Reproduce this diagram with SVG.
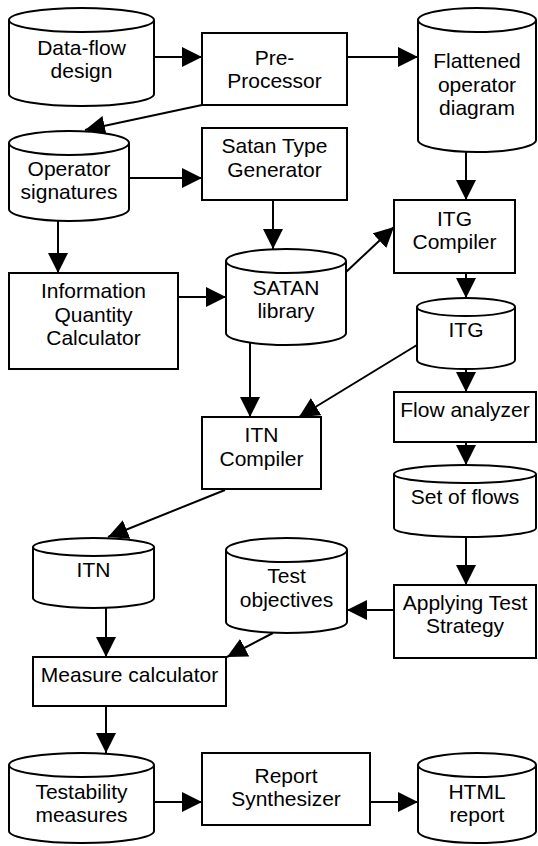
<svg xmlns="http://www.w3.org/2000/svg" width="538" height="846" viewBox="0 0 538 846">
  <style>
    .shape { fill: #fff; stroke: #000; stroke-width: 2; }
    .rim { fill: none; stroke: #000; stroke-width: 2; }
    .edge { fill: none; stroke: #000; stroke-width: 2; marker-end: url(#head); }
    text { font-family: "Liberation Sans", Arial, sans-serif; font-size: 21px; fill: #000; text-anchor: middle; }
  </style>
  <defs>
    <marker id="head" markerUnits="userSpaceOnUse" markerWidth="20" markerHeight="20" refX="20" refY="10" orient="auto">
      <path d="M0,0 L20,10 L0,20 Z" fill="#000"/>
    </marker>
  </defs>

  <rect width="538" height="846" fill="#fff"/>

  <!-- connectors (drawn first so the nodes sit on top) -->
  <g id="connectors">
    <line class="edge" x1="154" y1="57" x2="202" y2="57"/>
    <line class="edge" x1="347" y1="57" x2="418" y2="57"/>
    <line class="edge" x1="202" y1="105" x2="85" y2="130"/>
    <line class="edge" x1="129" y1="178" x2="202" y2="178"/>
    <line class="edge" x1="466" y1="150" x2="466" y2="200"/>
    <line class="edge" x1="273" y1="200" x2="273" y2="249"/>
    <line class="edge" x1="58" y1="219" x2="58" y2="273"/>
    <line class="edge" x1="178" y1="297" x2="226" y2="297"/>
    <line class="edge" x1="346" y1="272" x2="394" y2="227"/>
    <line class="edge" x1="466" y1="273" x2="466" y2="298"/>
    <line class="edge" x1="250" y1="340" x2="250" y2="417"/>
    <line class="edge" x1="417" y1="345" x2="299" y2="417"/>
    <line class="edge" x1="466" y1="367" x2="466" y2="392"/>
    <line class="edge" x1="466" y1="442" x2="466" y2="465"/>
    <line class="edge" x1="466" y1="535" x2="466" y2="585"/>
    <line class="edge" x1="394" y1="610" x2="347" y2="610"/>
    <line class="edge" x1="225" y1="490" x2="108" y2="537"/>
    <line class="edge" x1="106" y1="606" x2="106" y2="657"/>
    <line class="edge" x1="273" y1="633" x2="227" y2="657"/>
    <line class="edge" x1="106" y1="706" x2="106" y2="753"/>
    <line class="edge" x1="154" y1="802" x2="202" y2="802"/>
    <line class="edge" x1="370" y1="802" x2="418" y2="802"/>
  </g>

  <!-- data stores (cylinders) and processes (boxes) -->
  <g id="dataflow-design">
    <path class="shape" d="M9,20 A72.5,12 0 0 1 154,20 V94 A72.5,12 0 0 1 9,94 Z"/>
    <path class="rim" d="M9,20 A72.5,12 0 0 0 154,20"/>
    <text x="81.5" y="55">Data-flow</text>
    <text x="81.5" y="78">design</text>
  </g>

  <g id="pre-processor">
    <rect class="shape" x="202" y="33" width="145" height="72"/>
    <text x="274.5" y="65">Pre-</text>
    <text x="274.5" y="88">Processor</text>
  </g>

  <g id="flattened-diagram">
    <path class="shape" d="M418,20 A59,12 0 0 1 536,20 V140 A59,12 0 0 1 418,140 Z"/>
    <path class="rim" d="M418,20 A59,12 0 0 0 536,20"/>
    <text x="477" y="68">Flattened</text>
    <text x="477" y="92">operator</text>
    <text x="477" y="115">diagram</text>
  </g>

  <g id="operator-signatures">
    <path class="shape" d="M9,143 A60,12 0 0 1 129,143 V209 A60,12 0 0 1 9,209 Z"/>
    <path class="rim" d="M9,143 A60,12 0 0 0 129,143"/>
    <text x="69" y="176">Operator</text>
    <text x="69" y="199">signatures</text>
  </g>

  <g id="satan-type-generator">
    <rect class="shape" x="202" y="128" width="145" height="72"/>
    <text x="274.5" y="153">Satan Type</text>
    <text x="274.5" y="177">Generator</text>
  </g>

  <g id="itg-compiler">
    <rect class="shape" x="394" y="200" width="121" height="73"/>
    <text x="454.5" y="226">ITG</text>
    <text x="454.5" y="249">Compiler</text>
  </g>

  <g id="information-quantity-calculator">
    <rect class="shape" x="9" y="273" width="169" height="96"/>
    <text x="93.5" y="298">Information</text>
    <text x="93.5" y="322">Quantity</text>
    <text x="93.5" y="345">Calculator</text>
  </g>

  <g id="satan-library">
    <path class="shape" d="M226,261 A60,12 0 0 1 346,261 V333 A60,12 0 0 1 226,333 Z"/>
    <path class="rim" d="M226,261 A60,12 0 0 0 346,261"/>
    <text x="286" y="295">SATAN</text>
    <text x="286" y="318">library</text>
  </g>

  <g id="itg">
    <path class="shape" d="M417,307 A49,9 0 0 1 515,307 V360 A49,9 0 0 1 417,360 Z"/>
    <path class="rim" d="M417,307 A49,9 0 0 0 515,307"/>
    <text x="466" y="337">ITG</text>
  </g>

  <g id="flow-analyzer">
    <rect class="shape" x="394" y="392" width="142" height="50"/>
    <text x="465" y="417">Flow analyzer</text>
  </g>

  <g id="itn-compiler">
    <rect class="shape" x="202" y="417" width="119" height="72"/>
    <text x="261.5" y="442">ITN</text>
    <text x="261.5" y="466">Compiler</text>
  </g>

  <g id="set-of-flows">
    <path class="shape" d="M394,474 A71,9 0 0 1 536,474 V528 A71,9 0 0 1 394,528 Z"/>
    <path class="rim" d="M394,474 A71,9 0 0 0 536,474"/>
    <text x="465" y="504">Set of flows</text>
  </g>

  <g id="applying-test-strategy">
    <rect class="shape" x="394" y="585" width="142" height="73"/>
    <text x="465" y="610">Applying Test</text>
    <text x="465" y="633">Strategy</text>
  </g>

  <g id="test-objectives">
    <path class="shape" d="M226,550 A60.5,12 0 0 1 347,550 V622 A60.5,11 0 0 1 226,622 Z"/>
    <path class="rim" d="M226,550 A60.5,12 0 0 0 347,550"/>
    <text x="286.5" y="583">Test</text>
    <text x="286.5" y="607">objectives</text>
  </g>

  <g id="itn">
    <path class="shape" d="M33,547 A60.5,9 0 0 1 154,547 V598 A60.5,10 0 0 1 33,598 Z"/>
    <path class="rim" d="M33,547 A60.5,9 0 0 0 154,547"/>
    <text x="93.5" y="577">ITN</text>
  </g>

  <g id="measure-calculator">
    <rect class="shape" x="33" y="657" width="193" height="49"/>
    <text x="129.5" y="682">Measure calculator</text>
  </g>

  <g id="testability-measures">
    <path class="shape" d="M9,765 A72.5,12 0 0 1 154,765 V831 A72.5,12 0 0 1 9,831 Z"/>
    <path class="rim" d="M9,765 A72.5,12 0 0 0 154,765"/>
    <text x="81.5" y="799">Testability</text>
    <text x="81.5" y="822">measures</text>
  </g>

  <g id="report-synthesizer">
    <rect class="shape" x="202" y="753" width="168" height="72"/>
    <text x="286" y="783">Report</text>
    <text x="286" y="806">Synthesizer</text>
  </g>

  <g id="html-report">
    <path class="shape" d="M418,765 A59,12 0 0 1 536,765 V831 A59,12 0 0 1 418,831 Z"/>
    <path class="rim" d="M418,765 A59,12 0 0 0 536,765"/>
    <text x="477" y="799">HTML</text>
    <text x="477" y="822">report</text>
  </g>
</svg>
